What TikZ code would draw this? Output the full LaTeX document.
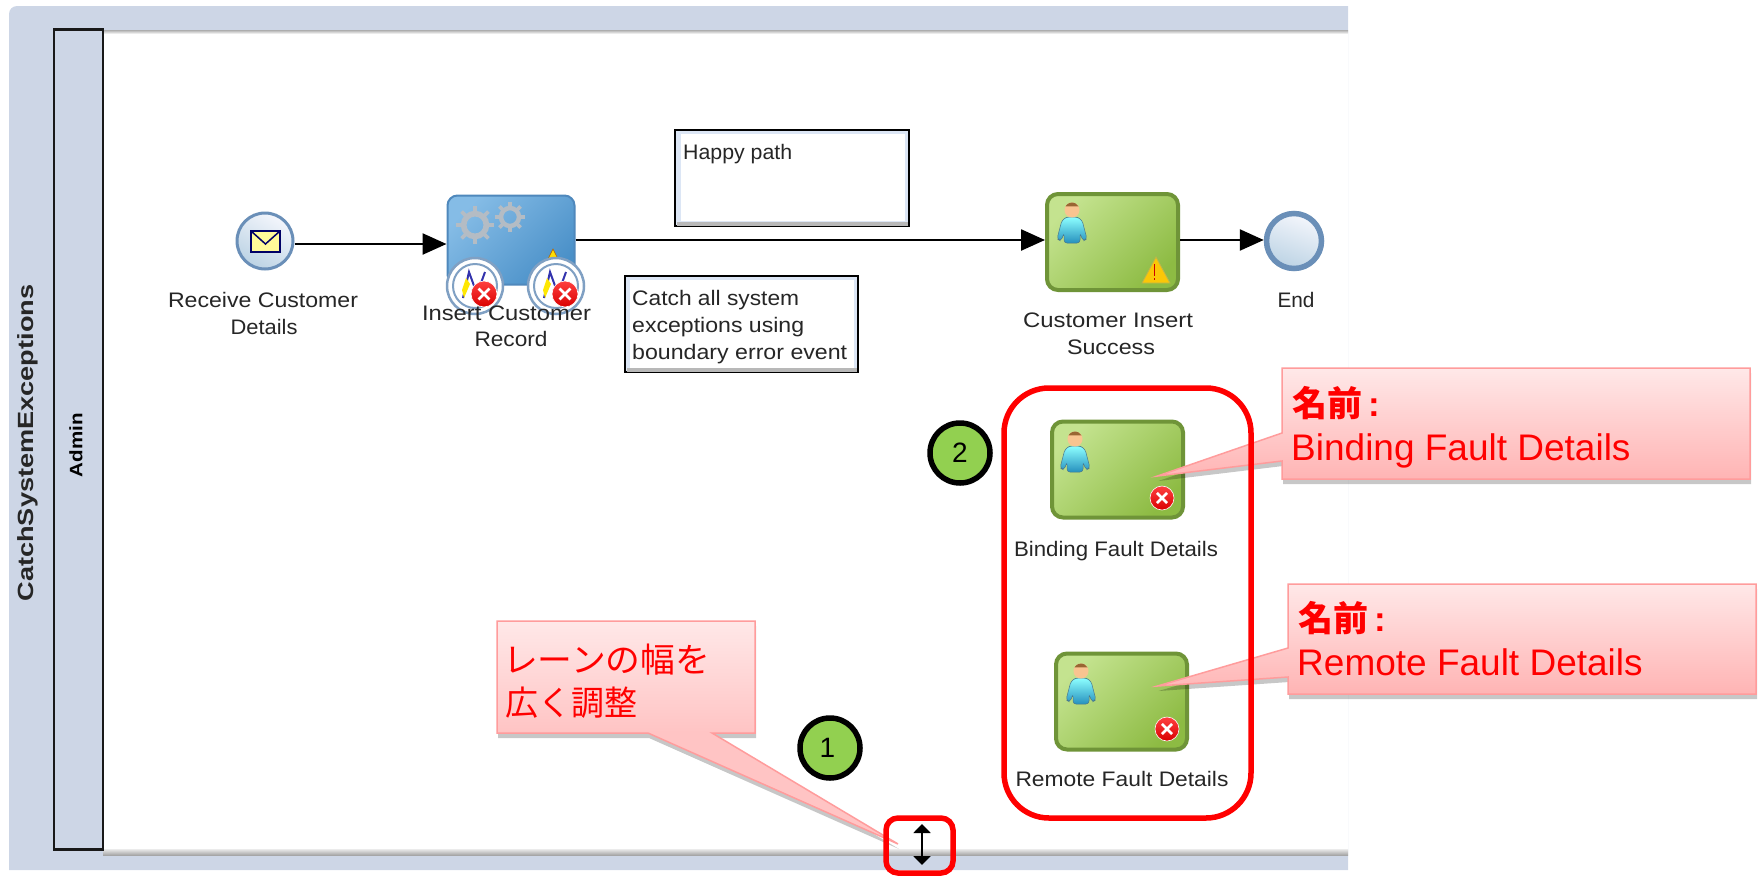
\documentclass[tikz,border=0pt]{standalone}
\usepackage{fontspec}
\usepackage{graphicx}
\setmainfont{Liberation Sans}
\newfontfamily\cjk{Noto Sans CJK JP}
\usetikzlibrary{arrows.meta,shadows,calc}
\definecolor{poolc}{HTML}{CDD6E6}
\definecolor{circg}{HTML}{92D050}
\definecolor{calltop}{HTML}{FFE8E8}
\definecolor{callbot}{HTML}{FFB4B4}
\definecolor{callbotb}{HTML}{FFC4C4}
\definecolor{callline}{HTML}{FF9C9C}
\definecolor{evline}{HTML}{6A8FB8}
\definecolor{taskline}{HTML}{6F9438}
\definecolor{gtop}{HTML}{C4E38F}
\definecolor{gbot}{HTML}{8DBB43}
\definecolor{notetint}{HTML}{DCE6F5}
\definecolor{btop}{HTML}{85BCE6}
\definecolor{bbot}{HTML}{4A90C8}
\definecolor{bline}{HTML}{4F88BC}
\definecolor{evwhite}{HTML}{F4F6FC}
\definecolor{evblue}{HTML}{BCD3E4}
\definecolor{gearc}{HTML}{B4BCC4}
\newlength\fitlen
\newcommand{\fitw}[2]{\settowidth{\fitlen}{#2}\pgfmathsetmacro\fitr{#1/\fitlen}\scalebox{\fitr}[1]{#2}}
\pgfdeclareverticalshading{longcall}{100bp}{color(0bp)=(callbotb);color(50bp)=(callbotb);color(75bp)=(calltop);color(100bp)=(calltop)}
\tikzset{
 lbl/.style={inner sep=0pt,anchor=base,font=\fontsize{21}{21}\selectfont,text=black!85},
 lblw/.style={lbl,anchor=base west},
 gtask/.style={rectangle,rounded corners=11,draw=taskline,line width=4pt,inner sep=0pt,minimum width=131pt,minimum height=96pt,top color=gtop,bottom color=gbot,shading angle=45},
 notebox/.style={rectangle,draw=black,line width=2.5pt,fill=notetint,inner sep=0pt},
 flow/.style={draw=black,line width=2.5pt,-{Triangle[length=24pt,width=21pt]}},
 redbox/.style={draw=red,line width=5.5pt,rounded corners=#1},
 numc/.style={circle,draw=black,line width=5.5pt,fill=circg,minimum size=60pt,inner sep=0pt,font=\fontsize{28}{28}\selectfont},
 callout/.style={draw=callline,line width=1.5pt,drop shadow={shadow xshift=1pt,shadow yshift=-5pt,fill=black,opacity=.22}},
 calltext/.style={inner sep=0pt,anchor=base west,text=red,font=\fontsize{37}{37}\selectfont},
 cjktext/.style={inner sep=0pt,anchor=base west,text=red,font=\cjk\fontsize{34}{34}\selectfont},
}
\newcommand{\person}[2]{\begin{scope}[shift={(#1,#2)}]
 \shade[top color=cyan!45,bottom color=cyan!70!blue!70!black!85,rounded corners=3pt,draw=cyan!50!black,line width=.5pt]
  (-5,-6)--(-10,-3)--(-15,16)--(-11,18)--(-8,10)--(-8,20)--(8,20)--(8,10)--(11,18)--(15,16)--(10,-3)--(5,-6)--cycle;
 \fill[orange!40!white!90!brown] (0,-13) circle[radius=7.5];
 \fill[brown!80!black] (-6.5,-16.7) arc[start angle=210,end angle=330,radius=7.5] -- cycle;
\end{scope}}
\newcommand{\errx}[3]{\begin{scope}[shift={(#1,#2)}]
 \shade[top color=red!75,bottom color=red!85!black,draw=white,line width=.6pt] (0,0) circle[radius=#3];
 \draw[white,line width=2.6pt] (-#3*.42,-#3*.42)--(#3*.42,#3*.42) (-#3*.42,#3*.42)--(#3*.42,-#3*.42);
\end{scope}}
\newcommand{\bevent}[2]{\begin{scope}[shift={(#1,#2)}]
 \fill[white] (0,0) circle[radius=28];
 \draw[evline!85,line width=2.5pt] (0,0) circle[radius=28];
 \draw[evline!85,line width=2pt] (0,0) circle[radius=22];
 \draw[blue!60!black!80,line width=2pt] (-12,12)--(-6,-14)--(2,8)--(10,-14);
 \fill[yellow!90!orange] (-9,-8)--(-5,-2)--(-11,12)--(-13,4)--cycle;
\end{scope}\errx{#1+9}{#2+8}{13}}
\newcommand{\gear}[3]{\begin{scope}[shift={(#1,#2)}]
 \foreach \a in {0,45,...,315}{\draw[gearc,line width=3.6pt] (\a:#3*.72)--(\a:#3);}
 \draw[gearc,line width=#3*.3pt] (0,0) circle[radius=#3*.6];
\end{scope}}
\begin{document}
\begin{tikzpicture}[x=1pt,y=-1pt]
\useasboundingbox (0,0) rectangle (1759,876);
% pool
\fill[poolc] (9,870) [rounded corners=8pt] -- (9,6) [sharp corners] -- (1348,6) -- (1348,870) -- cycle;
\fill[white] (103,30) rectangle (1348,852);
\shade[top color=black!32,bottom color=white] (103,30) rectangle (1348,34);
\shade[top color=black!8,bottom color=black!35] (103,849) rectangle (1348,855);
\node[rectangle,draw=black!90,line width=2.5pt,fill=poolc,minimum width=49pt,minimum height=820pt,inner sep=0pt] (lane) at (78.5,439.5) {};
\node[rotate=90,inner sep=0pt,font=\bfseries\fontsize{22}{22}\selectfont,text=black!85] (pooltitle) at (28,443) {\fitw{317}{CatchSystemExceptions}};
\node[rotate=90,inner sep=0pt,font=\bfseries\fontsize{18}{18}\selectfont] (lanetitle) at (76,445) {\fitw{64}{Admin}};
% start
\node[circle,draw=evline,line width=3pt,minimum size=56pt,inner sep=0pt,left color=evwhite,right color=evblue,shading angle=-30] (start) at (265,241) {};
\draw[draw=blue!40!black,line width=2pt,fill=yellow!40] (251,231) rectangle (280,252);
\draw[draw=blue!40!black,line width=1.5pt] (251,231)--(265.5,244)--(280,231);
\node[lbl] (startl1) at (263,307) {\fitw{190}{Receive Customer}};
\node[lbl] (startl2) at (264,334) {\fitw{67}{Details}};
% service task
\node[rectangle,rounded corners=10,draw=bline,line width=2pt,minimum width=127pt,minimum height=89pt,inner sep=0pt,top color=btop,bottom color=bbot,shading angle=45] (ins) at (511,240) {};
\gear{475}{225}{19}
\gear{510}{217}{15}
\fill[yellow!80!orange,draw=orange!70!black,line width=.5pt] (553,249)--(558,259)--(548,259)--cycle;
\bevent{475}{286}
\bevent{556}{286}
\node[lbl] (insl1) at (506.5,320) {\fitw{169}{Insert Customer}};
\node[lbl] (insl2) at (511,346) {\fitw{73}{Record}};
% user task
\node[gtask] (ct) at (1112.5,242) {};
\person{1072}{223}
\fill[yellow!60!orange,draw=olive!60,line width=.8pt] (1156,257)--(1170,283)--(1142,283)--cycle;
\draw[red!80!black,line width=1.6pt] (1154.5,264)--(1154.5,276) (1154.5,278)--(1154.5,280);
\node[lbl] (ctl1) at (1108,327) {\fitw{170}{Customer Insert}};
\node[lbl] (ctl2) at (1111,354) {\fitw{88}{Success}};
% end
\node[circle,draw=evline,line width=5.5pt,minimum size=55pt,inner sep=0pt,left color=evwhite,middle color=evwhite,right color=evblue,shading angle=-20] (endev) at (1294,241) {};
\node[lbl] (endl) at (1296,307) {\fitw{37}{End}};
% flows
\draw[flow] ([yshift=-3pt]start.east) -- ([yshift=-4pt]ins.west);
\draw[flow] (ins.east) -- ([yshift=2pt]ct.west);
\draw[flow] ([yshift=2pt]ct.east) -- ([yshift=1pt]endev.west);
% notes
\node[notebox,minimum width=234pt,minimum height=96pt] (happy) at (792,178) {};
\fill[white] (681,134) rectangle (905,221);
\fill[black!28] (677,222) rectangle (908,226);
\node[lblw] (happyt) at (683,159) {\fitw{109}{Happy path}};
\node[notebox,minimum width=233pt,minimum height=96pt] (catch) at (741.5,324) {};
\fill[white] (630,280) rectangle (854,368);
\fill[black!28] (627,368) rectangle (857,372);
\node[lblw] (catcht1) at (632,305) {\fitw{167}{Catch all system}};
\node[lblw] (catcht2) at (632,332) {\fitw{172}{exceptions using}};
\node[lblw] (catcht3) at (632,359) {\fitw{215}{boundary error event}};
% fault tasks
\node[gtask] (bind) at (1117.5,469.5) {};
\person{1075}{452}
\errx{1162}{498}{12}
\node[lbl] (bindl) at (1116,556) {\fitw{204}{Binding Fault Details}};
\node[gtask] (rem) at (1121.5,701.5) {};
\person{1081}{684}
\errx{1167}{729}{12}
\node[lbl] (reml) at (1122,786) {\fitw{213}{Remote Fault Details}};
% callouts
\path[callout,top color=calltop,bottom color=callbot] (1282,368)--(1750,368)--(1750,479)--(1282,479)--(1282,461)--(1157.5,476)--(1282,433)--cycle;
\node[calltext,font=\fontsize{35}{35}\selectfont] (c1a) at (1292,416) {{\cjk\bfseries 名前}\bfseries\,:};
\node[calltext] (c1b) at (1291,460) {Binding Fault Details};
\path[callout,top color=calltop,bottom color=callbot] (1288,584)--(1756,584)--(1756,694)--(1288,694)--(1288,677)--(1157.5,686)--(1288,648)--cycle;
\node[calltext,font=\fontsize{35}{35}\selectfont] (c2a) at (1298,631) {{\cjk\bfseries 名前}\bfseries\,:};
\node[calltext] (c2b) at (1297,675) {Remote Fault Details};
\path[callout,shade,shading=longcall] (497,621)--(755,621)--(755,733)--(712,733)--(898,844)--(648,733)--(497,733)--cycle;
\node[cjktext] (c3a) at (503,672) {\fitw{207}{レーンの幅を}};
\node[cjktext] (c3b) at (505,715) {\fitw{132}{広く調整}};
% numbers
\node[numc] (n1) at (830,748) {\hspace*{-5pt}1};
\node[numc] (n2) at (960,453) {2};
% highlight
\draw[redbox=45pt] (1004,388) rectangle (1251,818);
\draw[redbox=12pt] (886,818) rectangle (953,873);
% resize arrow
\coordinate (ra) at (922,824);
\coordinate (rb) at (922,865);
\draw[black,line width=2pt,{Triangle[length=9pt,width=17pt]}-{Triangle[length=9pt,width=17pt]}] (ra) -- (rb);
\end{tikzpicture}
\end{document}
